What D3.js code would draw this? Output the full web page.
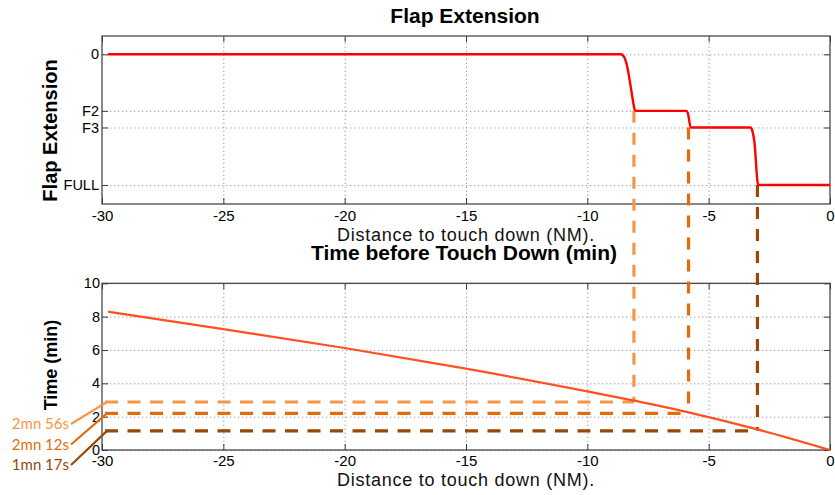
<!DOCTYPE html>
<html>
<head>
<meta charset="utf-8">
<script src="https://cdn.jsdelivr.net/npm/d3@7"></script>
<style>
  body { margin: 0; background: #fff; }
  text { font-family: "Liberation Sans", Arial, sans-serif; }
</style>
</head>
<body>
<svg id="chart" width="835" height="495"></svg>
<script>
// Data
const xTicks = [-30, -25, -20, -15, -10, -5, 0];

// flap position, plotted on a numeric scale (0 at top, FULL at bottom)
const flapLevels = [0, 17, 22, 39.3];
const flapLabels = ["0", "F2", "F3", "FULL"];
const flapDist = [-29.75, -8.62, -8.5, -8.38, -8.25, -8.12, -8.05, -8.0,
                  -5.92, -5.86, -5.74, -3.28, -3.2, -3.12, -2.96, 0];
const flapVal  = [0, 0, 0.6, 3, 8, 14, 16.6, 17,
                  17, 17.6, 22, 22, 23, 26, 39.3, 39.3];

const timeTicks = [0, 2, 4, 6, 8, 10];
const timeDist = [-29.75, -25, -20, -15, -10, -8.08, -5.83, -5, -2.99, 0];
const timeVal  = [8.3, 7.25, 6.12, 4.88, 3.52, 2.96, 2.26, 1.97, 1.24, 0];

// flap selection points
const markDist = [-8.08, -5.83, -2.99];
const markTime = [2.88, 2.2, 1.15];
const markFlap = [17, 22, 39.3];
const markLabels = ["2mn 56s", "2mn 12s", "1mn 17s"];
const markColors = ["#f79646", "#e46c0a", "#984807"];

const svg = d3.select("#chart");
const left = 102, right = 830;

const x = d3.scaleLinear().domain([-30, 0]).range([left, right]);
const top1 = {top: 36, bottom: 204, pad: 6};
const top2 = {top: 283.3, bottom: 450, pad: 5};
const yFlap = d3.scaleLinear().domain([-5.5, 45]).range([top1.top, top1.bottom]);
const yTime = d3.scaleLinear().domain([0, 10]).range([top2.bottom, top2.top]);

function drawFrame(panel, y, yTickVals, yFormat, yPad) {
  const h = panel.bottom - panel.top;
  const w = right - left;
  const g = svg.append("g");

  // dotted grid
  g.append("g")
    .attr("transform", "translate(0," + panel.bottom + ")")
    .call(d3.axisBottom(x).tickValues(xTicks.slice(1, -1)).tickSize(-h).tickFormat(""))
    .call(a => a.select(".domain").remove())
    .selectAll("line").attr("stroke", "#9a9a9a").attr("stroke-dasharray", "1.3,2.7");
  g.append("g")
    .attr("transform", "translate(" + left + ",0)")
    .call(d3.axisLeft(y).tickValues(yTickVals).tickSize(-w).tickFormat(""))
    .call(a => a.select(".domain").remove())
    .selectAll("line").attr("stroke", "#9a9a9a").attr("stroke-dasharray", "1.3,2.7");

  // box
  g.append("rect")
    .attr("x", left).attr("y", panel.top)
    .attr("width", w).attr("height", h)
    .attr("fill", "none").attr("stroke", "#3a3a3a").attr("stroke-width", 1.2);

  // ticks, inside, on all four sides
  const tickStyle = size => a => {
    a.select(".domain").remove();
    a.attr("font-size", size).attr("font-family", '"Liberation Sans", Arial, sans-serif');
    a.selectAll("line").attr("stroke", "#3a3a3a");
    a.selectAll("text").attr("fill", "#000");
  };
  g.append("g")
    .attr("transform", "translate(0," + panel.bottom + ")")
    .call(d3.axisBottom(x).tickValues(xTicks).tickSizeInner(-6).tickSizeOuter(0)
      .tickPadding(panel.pad).tickFormat(d => String(d)))
    .call(tickStyle(15));
  g.append("g")
    .attr("transform", "translate(0," + panel.top + ")")
    .call(d3.axisTop(x).tickValues(xTicks).tickSizeInner(-6).tickSizeOuter(0).tickFormat(""))
    .call(tickStyle(15));
  g.append("g")
    .attr("transform", "translate(" + left + ",0)")
    .call(d3.axisLeft(y).tickValues(yTickVals).tickSizeInner(-6).tickSizeOuter(0)
      .tickPadding(yPad).tickFormat(yFormat))
    .call(tickStyle(14.5));
  g.append("g")
    .attr("transform", "translate(" + right + ",0)")
    .call(d3.axisRight(y).tickValues(yTickVals).tickSizeInner(-6).tickSizeOuter(0).tickFormat(""))
    .call(tickStyle(14.5));
}

drawFrame(top1, yFlap, flapLevels, (d, i) => flapLabels[i], 3);
drawFrame(top2, yTime, timeTicks, d => String(d), 2);

// titles and axis labels
svg.append("text").attr("x", 465).attr("y", 23).attr("text-anchor", "middle")
  .style("font-size", "21px").style("font-weight", "bold").text("Flap Extension");
svg.append("text").attr("x", 464).attr("y", 260).attr("text-anchor", "middle")
  .style("font-size", "21px").style("font-weight", "bold").text("Time before Touch Down (min)");
svg.append("text").attr("x", 466).attr("y", 241).attr("text-anchor", "middle").attr("fill", "#111")
  .style("font-size", "18px").style("letter-spacing", "0.75px").text("Distance to touch down (NM).");
svg.append("text").attr("x", 466).attr("y", 486).attr("text-anchor", "middle").attr("fill", "#111")
  .style("font-size", "18px").style("letter-spacing", "0.75px").text("Distance to touch down (NM).");
svg.append("text").attr("transform", "translate(57,130.5) rotate(-90)").attr("text-anchor", "middle")
  .style("font-size", "20px").style("font-weight", "bold").text("Flap Extension");
svg.append("text").attr("transform", "translate(57,365) rotate(-90)").attr("text-anchor", "middle")
  .style("font-size", "18px").style("font-weight", "bold").text("Time (min)");

// dashed markers linking both panels
markDist.forEach((d, i) => {
  const c = markColors[i];
  svg.append("line")
    .attr("x1", x(-30) + 3).attr("x2", x(d))
    .attr("y1", yTime(markTime[i])).attr("y2", yTime(markTime[i]))
    .attr("stroke", c).attr("stroke-width", 3.2).attr("stroke-dasharray", "13,9.5");
  svg.append("line")
    .attr("x1", x(d)).attr("x2", x(d))
    .attr("y1", yFlap(markFlap[i])).attr("y2", yTime(markTime[i]))
    .attr("stroke", c).attr("stroke-width", 3.2).attr("stroke-dasharray", "12,10");

  // left labels with connectors
  const by = 429 + i * 20.5;
  svg.append("text").attr("x", 69).attr("y", by).attr("text-anchor", "end")
    .style("font-family", "Lato, 'Open Sans', sans-serif").style("font-size", "15px")
    .attr("fill", c).text(markLabels[i]);
  svg.append("line")
    .attr("x1", 71).attr("y1", by - 5)
    .attr("x2", 107).attr("y2", yTime(markTime[i]))
    .attr("stroke", c).attr("stroke-width", 2.2);
});

// curves
const flapLine = d3.line().x(d => x(d[0])).y(d => yFlap(d[1])).curve(d3.curveMonotoneX);
svg.append("path")
  .datum(flapDist.map((d, i) => [d, flapVal[i]]))
  .attr("d", flapLine)
  .attr("fill", "none").attr("stroke", "#ff0000").attr("stroke-width", 2.4);

const timeLine = d3.line().x(d => x(d[0])).y(d => yTime(d[1])).curve(d3.curveMonotoneX);
svg.append("path")
  .datum(timeDist.map((d, i) => [d, timeVal[i]]))
  .attr("d", timeLine)
  .attr("fill", "none").attr("stroke", "#ff5020").attr("stroke-width", 2.2);
</script>
</body>
</html>
